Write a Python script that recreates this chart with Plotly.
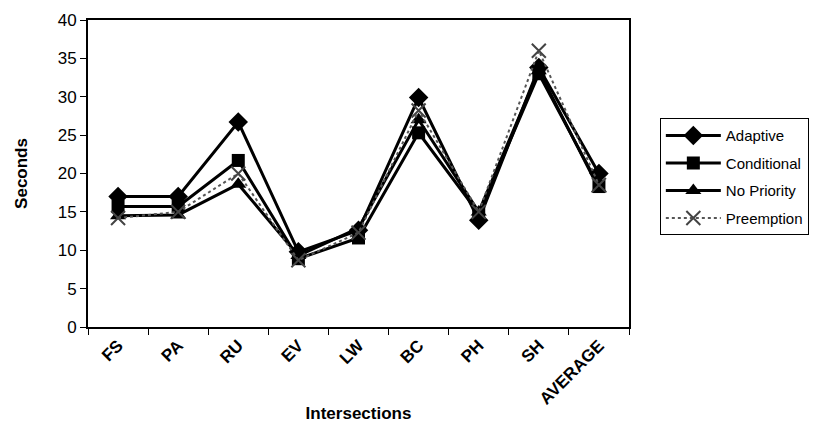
import plotly.graph_objects as go

categories = ["FS", "PA", "RU", "EV", "LW", "BC", "PH", "SH", "AVERAGE"]
adaptive = [17.0, 17.0, 26.7, 9.8, 12.6, 29.9, 13.9, 33.8, 20.0]
conditional = [15.7, 15.7, 21.7, 8.9, 11.6, 25.3, 14.8, 33.0, 18.3]
no_priority = [14.5, 14.6, 18.6, 9.3, 12.9, 27.0, 15.0, 33.4, 18.0]
preemption = [14.2, 15.0, 20.0, 8.7, 12.3, 28.2, 15.0, 36.0, 18.5]
y_ticks = [0, 5, 10, 15, 20, 25, 30, 35, 40]
x_ticktext = ["<b>" + c + "</b>" for c in categories]

fig = go.Figure()

fig.add_trace(go.Scatter(
    x=categories, y=adaptive, name="Adaptive", mode="lines+markers",
    legendgroup="a",
    line=dict(color="black", width=3),
    marker=dict(symbol="diamond", size=15, color="black"),
))
fig.add_trace(go.Scatter(
    x=categories, y=conditional, name="Conditional", mode="lines+markers",
    legendgroup="c",
    line=dict(color="black", width=3),
    marker=dict(symbol="square", size=13, color="black"),
))
fig.add_trace(go.Scatter(
    x=categories, y=no_priority, name="No Priority", mode="lines+markers",
    legendgroup="n",
    line=dict(color="black", width=3),
    marker=dict(symbol="triangle-up", size=14, color="black"),
))
fig.add_trace(go.Scatter(
    x=categories, y=preemption, name="Preemption", mode="lines+markers",
    legendgroup="p",
    line=dict(color="#555555", width=2, dash="dot"),
    marker=dict(symbol="x-thin", size=14, color="#444444",
                line=dict(color="#444444", width=2)),
))

fig.update_layout(
    width=820, height=433,
    margin=dict(l=88, r=191, t=20, b=106, autoexpand=False),
    paper_bgcolor="white", plot_bgcolor="white",
    font=dict(family="Liberation Sans, Arial, sans-serif", size=16, color="black"),
    showlegend=True,
    legend=dict(
        x=1.057, y=0.68, xanchor="left", yanchor="top",
        bordercolor="black", borderwidth=1, bgcolor="white",
        font=dict(size=15), tracegroupgap=5, itemwidth=55,
    ),
)

fig.update_xaxes(
    type="category", categoryorder="array", categoryarray=categories,
    tickvals=categories, ticktext=x_ticktext,
    range=[-0.5, 8.5],
    showline=True, linecolor="black", linewidth=2, mirror=True,
    ticks="outside", tickson="boundaries", ticklen=6, tickcolor="black",
    tickangle=-45, tickfont=dict(size=17),
    showgrid=False,
    title=dict(text="<b>Intersections</b>", font=dict(size=17), standoff=0),
)
fig.update_yaxes(
    range=[0, 40], tickvals=y_ticks,
    showline=True, linecolor="black", linewidth=2, mirror=True,
    ticks="outside", ticklen=6, tickcolor="black",
    showgrid=False, zeroline=False, tickfont=dict(size=17),
    title=dict(text="<b>Seconds</b>", font=dict(size=17), standoff=26),
)

fig.write_html("out.html")
